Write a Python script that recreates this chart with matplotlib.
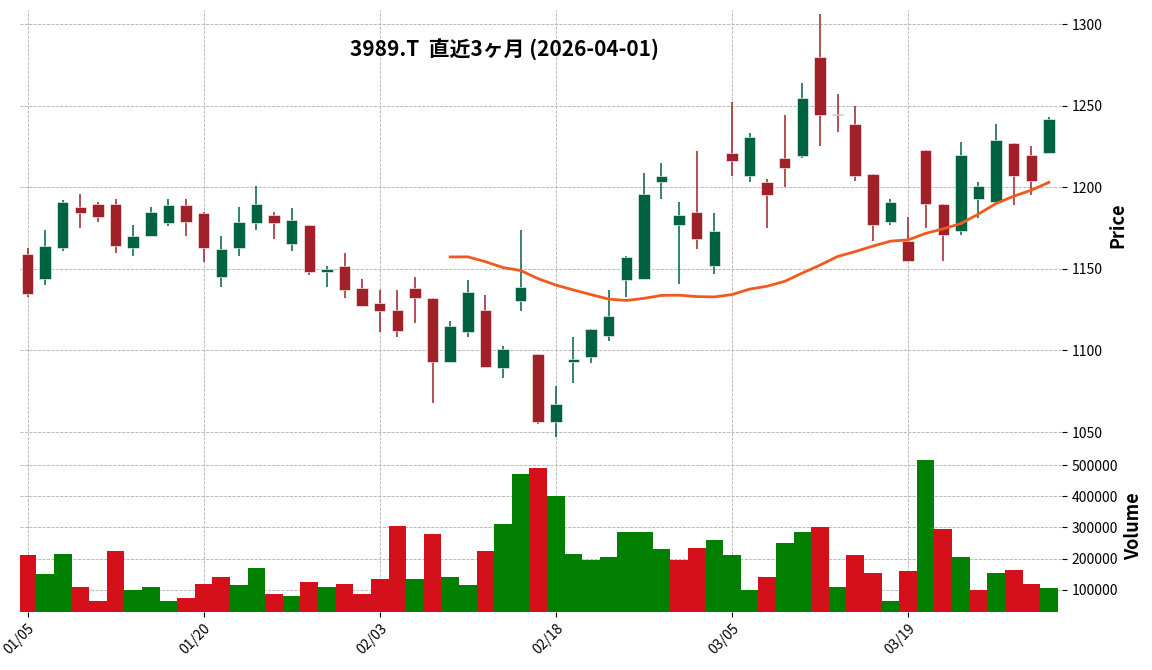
import matplotlib
matplotlib.use("Agg")
import matplotlib.pyplot as plt
import numpy as np

plt.rcParams["font.family"] = ["Noto Sans CJK JP", "DejaVu Sans"]

dates = ["01/05", "01/06", "01/07", "01/08", "01/09", "01/13", "01/14", "01/15", "01/16", "01/19",
         "01/20", "01/21", "01/22", "01/23", "01/26", "01/27", "01/28", "01/29", "01/30", "02/02",
         "02/03", "02/04", "02/05", "02/06", "02/09", "02/10", "02/12", "02/13", "02/16", "02/17",
         "02/18", "02/19", "02/20", "02/24", "02/25", "02/26", "02/27", "03/02", "03/03", "03/04",
         "03/05", "03/06", "03/09", "03/10", "03/11", "03/12", "03/13", "03/16", "03/17", "03/18",
         "03/19", "03/23", "03/24", "03/25", "03/26", "03/27", "03/30", "03/31", "04/01"]
opens = [1159, 1144, 1163, 1188, 1190, 1190, 1163, 1170, 1178, 1189,
         1184, 1145, 1163, 1178, 1183, 1165, 1177, 1148, 1152, 1138,
         1129, 1125, 1138, 1132, 1093, 1111, 1125, 1089, 1130, 1098,
         1056, 1093, 1096, 1109, 1143, 1144, 1203, 1177, 1185, 1152,
         1221, 1207, 1203, 1218, 1219, 1280, 1245, 1239, 1208, 1179,
         1167, 1223, 1190, 1173, 1193, 1191, 1227, 1220, 1221]
highs = [1163, 1174, 1192, 1196, 1191, 1193, 1177, 1188, 1193, 1193,
         1185, 1170, 1188, 1201, 1185, 1187, 1177, 1152, 1160, 1144,
         1137, 1137, 1145, 1132, 1118, 1143, 1134, 1103, 1174, 1098,
         1078, 1108, 1113, 1137, 1158, 1209, 1215, 1191, 1222, 1184,
         1252, 1233, 1205, 1244, 1264, 1306, 1257, 1250, 1208, 1193,
         1182, 1223, 1190, 1228, 1203, 1239, 1227, 1225, 1243]
lows = [1133, 1140, 1161, 1175, 1179, 1160, 1158, 1170, 1176, 1170,
        1154, 1139, 1158, 1174, 1168, 1161, 1146, 1139, 1132, 1127,
        1111, 1108, 1117, 1068, 1093, 1108, 1090, 1083, 1124, 1055,
        1047, 1080, 1092, 1106, 1133, 1144, 1193, 1141, 1162, 1147,
        1207, 1203, 1175, 1200, 1218, 1225, 1234, 1204, 1167, 1177,
        1154, 1175, 1155, 1171, 1181, 1191, 1189, 1195, 1221]
closes = [1134.6, 1164, 1191, 1184, 1182, 1164, 1170, 1185, 1189, 1179,
          1163, 1162, 1179, 1190, 1178, 1180, 1148, 1150, 1137, 1127,
          1124, 1112, 1132, 1093, 1115, 1136, 1090, 1101, 1139, 1056,
          1067, 1095, 1113, 1121, 1157, 1196, 1207, 1183, 1168, 1173,
          1216, 1231, 1195, 1212, 1255, 1244, 1244.5, 1207, 1177, 1191,
          1155, 1190, 1171, 1220, 1201, 1229, 1207, 1204, 1242]
volumes = [210000, 150000, 215000, 110000, 65000, 225000, 100000, 110000, 65000, 75000,
           120000, 140000, 115000, 170000, 85000, 80000, 125000, 108000, 118000, 85000,
           135000, 305000, 135000, 280000, 140000, 115000, 225000, 310000, 470000, 490000,
           400000, 215000, 195000, 205000, 285000, 285000, 230000, 195000, 235000, 260000,
           210000, 100000, 140000, 250000, 285000, 300000, 110000, 210000, 155000, 65000,
           160000, 515000, 295000, 205000, 100000, 155000, 165000, 120000, 105000]
MAV = 25

o, h, l, c, v = map(np.array, (opens, highs, lows, closes, volumes))
x = np.arange(len(c))

fig = plt.figure(figsize=(11.52, 6.7), dpi=100)
ax = fig.add_axes([0.017, 0.343, 0.905, 0.642])
axv = fig.add_axes([0.017, 0.087, 0.905, 0.256], sharex=ax)

up_c, dn_c = "#006340", "#a02128"
cols = np.where(c >= o, up_c, dn_c)
ax.vlines(x, l, h, colors=cols, lw=1.1, zorder=2)
ax.bar(x, np.maximum(np.abs(c - o), 0.6), bottom=np.minimum(o, c), width=0.65,
       color=cols, edgecolor="white", linewidth=0.4, zorder=3)
ma = np.convolve(c, np.ones(MAV) / MAV, mode="valid")
ax.plot(x[MAV - 1:], ma, color="#f05a1e", lw=2, zorder=4)

prev = np.concatenate([[o[0]], c[:-1]])
vcols = np.where(c >= prev, "#007f00", "#d4111b")
axv.bar(x, v, width=1.0, color=vcols, zorder=3)

ax.set_ylim(1045, 1308.6)
axv.set_ylim(29600, 580000)
ax.set_xlim(-0.45, 58.75)

for a in (ax, axv):
    a.yaxis.tick_right()
    a.yaxis.set_label_position("right")
    a.grid(True, ls="--", color="#b0b0b0", lw=0.6)
    a.set_axisbelow(True)
    for s in a.spines.values():
        s.set_visible(False)
    a.tick_params(labelsize=10)

ax.set_yticks([1050, 1100, 1150, 1200, 1250, 1300])
ax.tick_params(axis="x", labelbottom=False, length=0)
axv.set_yticks([100000, 200000, 300000, 400000, 500000])
ticks = [0, 10, 20, 30, 40, 50]
axv.set_xticks(ticks)
axv.set_xticklabels([dates[i] for i in ticks], rotation=45, ha="right", rotation_mode="anchor")
ax.set_ylabel("Price", fontsize=13, fontweight="bold")
axv.set_ylabel("Volume", fontsize=13, fontweight="bold")

ax.text(0.465, 0.91, "3989.T  直近3ヶ月 (2026-04-01)", transform=ax.transAxes,
        ha="center", va="center", fontsize=15, fontweight="bold")

fig.savefig("out.png", dpi=100)
